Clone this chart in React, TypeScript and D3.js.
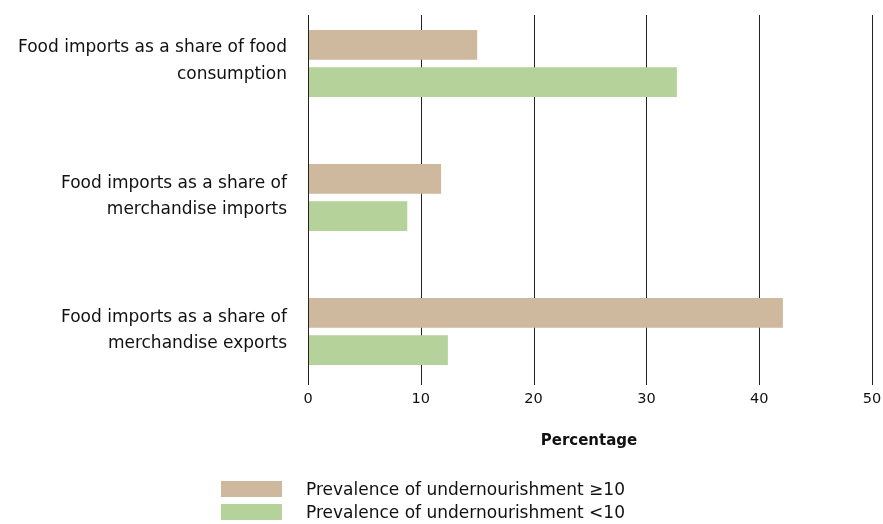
import * as d3 from "d3";
import { useEffect, useRef } from "react";

const categories = [
  ["Food imports as a share of food", "consumption"],
  ["Food imports as a share of", "merchandise imports"],
  ["Food imports as a share of", "merchandise exports"],
];
const seriesNames = [
  "Prevalence of undernourishment \u226510",
  "Prevalence of undernourishment <10",
];
const highValues = [15, 11.8, 42.1];
const lowValues = [32.7, 8.8, 12.4];
const xTicks = [0, 10, 20, 30, 40, 50];

const colors = ["#cfb99e", "#b5d29a"];

export default function App() {
  const svgRef = useRef<SVGSVGElement>(null);

  useEffect(() => {
    const svg = d3.select(svgRef.current);
    svg.selectAll("*").remove();

    const width = 883;
    const height = 524;
    const font = "'DejaVu Sans', 'Open Sans', sans-serif";

    svg
      .attr("width", width)
      .attr("height", height)
      .style("display", "block")
      .style("font-family", font);

    const x = d3.scaleLinear().domain([0, 50]).range([308, 872]);
    const y = d3
      .scaleBand<number>()
      .domain(d3.range(categories.length))
      .range([30, 365])
      .paddingInner(0.5);
    const inner = d3
      .scaleBand<number>()
      .domain([0, 1])
      .range([0, y.bandwidth()])
      .paddingInner(0.2);

    // grid lines
    svg
      .append("g")
      .selectAll("line")
      .data(xTicks)
      .join("line")
      .attr("x1", (d) => Math.round(x(d)) + 0.5)
      .attr("x2", (d) => Math.round(x(d)) + 0.5)
      .attr("y1", 15)
      .attr("y2", 385)
      .attr("stroke", "#222")
      .attr("stroke-width", 1);

    // tick labels
    svg
      .append("g")
      .selectAll("text")
      .data(xTicks)
      .join("text")
      .attr("x", (d) => x(d))
      .attr("y", 398)
      .attr("dy", "0.35em")
      .attr("text-anchor", "middle")
      .attr("font-size", 14.5)
      .attr("fill", "#111")
      .text((d) => d);

    svg
      .append("text")
      .attr("x", 589)
      .attr("y", 440)
      .attr("dy", "0.35em")
      .attr("text-anchor", "middle")
      .attr("font-size", 15)
      .attr("font-weight", "bold")
      .attr("fill", "#111")
      .text("Percentage");

    // bars
    const series = [highValues, lowValues];
    series.forEach((vals, si) => {
      svg
        .append("g")
        .selectAll("rect")
        .data(vals)
        .join("rect")
        .attr("x", x(0) + 1)
        .attr("y", (_, i) => (y(i) ?? 0) + (inner(si) ?? 0))
        .attr("width", (d) => x(d) - x(0) - 1)
        .attr("height", inner.bandwidth())
        .attr("fill", colors[si]);
    });

    // category labels
    const labels = svg.append("g");
    categories.forEach((lines, i) => {
      const cy = (y(i) ?? 0) + y.bandwidth() / 2 - (i === 0 ? 4 : 2.5);
      lines.forEach((line, li) => {
        labels
          .append("text")
          .attr("x", 287)
          .attr("y", cy + (li - 0.5) * 26.5)
          .attr("dy", "0.35em")
          .attr("text-anchor", "end")
          .attr("font-size", 17)
          .attr("fill", "#111")
          .text(line);
      });
    });

    // legend
    const legend = svg.append("g");
    seriesNames.forEach((name, i) => {
      const ly = 481 + i * 23;
      legend
        .append("rect")
        .attr("x", 221)
        .attr("y", ly)
        .attr("width", 61)
        .attr("height", 16)
        .attr("fill", colors[i]);
      legend
        .append("text")
        .attr("x", 306)
        .attr("y", ly + 8)
        .attr("dy", "0.35em")
        .attr("font-size", 17)
        .attr("fill", "#111")
        .text(name);
    });
  }, []);

  return (
    <div style={{ position: "fixed", left: 0, top: 0, width: 883, height: 524, overflow: "hidden" }}>
      <svg ref={svgRef} />
    </div>
  );
}
